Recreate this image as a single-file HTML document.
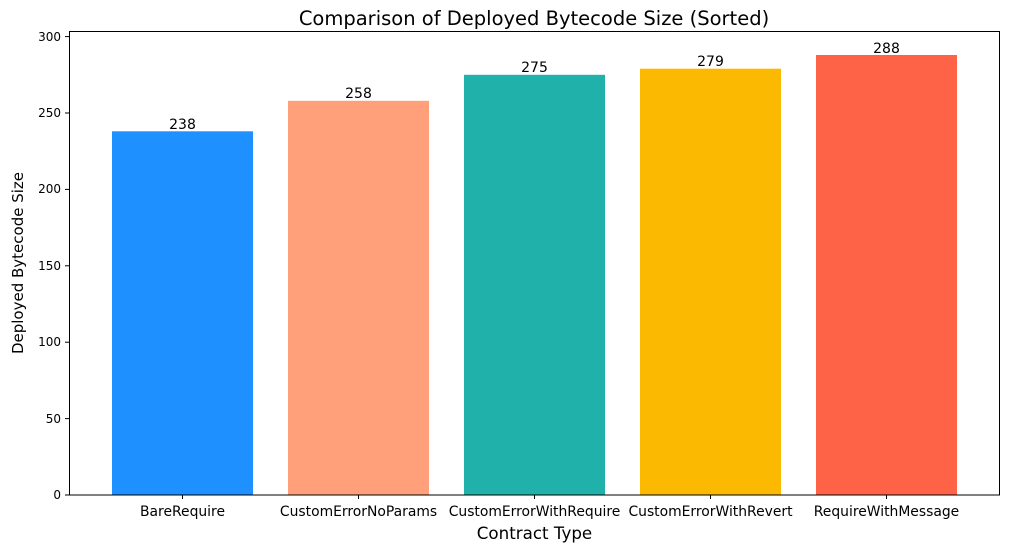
<!DOCTYPE html>
<html><head><meta charset="utf-8"><style>
html,body{margin:0;padding:0;background:#fff;}
svg text{font-family:"DejaVu Sans","Liberation Sans",sans-serif;fill:#000;}
</style></head><body>
<svg width="1009" height="552" viewBox="0 0 1009 552" xmlns="http://www.w3.org/2000/svg">
<rect width="1009" height="552" fill="#fff"/>
<text x="534" y="25" font-size="19.5" text-anchor="middle">Comparison of Deployed Bytecode Size (Sorted)</text>
<rect x="112" y="131.3" width="141" height="363.7" fill="#1E90FF"/>
<rect x="288" y="100.8" width="141" height="394.2" fill="#FFA07A"/>
<rect x="464" y="74.8" width="141" height="420.2" fill="#20B2AA"/>
<rect x="640" y="68.7" width="141" height="426.3" fill="#FBB901"/>
<rect x="816" y="55" width="141" height="440" fill="#FF6347"/>
<g font-size="14" text-anchor="middle">
<text x="182.5" y="129">238</text>
<text x="358.5" y="98">258</text>
<text x="534.5" y="72">275</text>
<text x="710.5" y="66">279</text>
<text x="886.5" y="53">288</text>
</g>
<rect x="69.5" y="31.5" width="930" height="463.5" fill="none" stroke="#000" stroke-width="1"/>
<g stroke="#000" stroke-width="1">
<line x1="65" y1="495" x2="69" y2="495"/>
<line x1="65" y1="418.6" x2="69" y2="418.6"/>
<line x1="65" y1="342.2" x2="69" y2="342.2"/>
<line x1="65" y1="265.8" x2="69" y2="265.8"/>
<line x1="65" y1="189.4" x2="69" y2="189.4"/>
<line x1="65" y1="113" x2="69" y2="113"/>
<line x1="65" y1="36.6" x2="69" y2="36.6"/>
<line x1="182.5" y1="495" x2="182.5" y2="499"/>
<line x1="358.5" y1="495" x2="358.5" y2="499"/>
<line x1="534.5" y1="495" x2="534.5" y2="499"/>
<line x1="710.5" y1="495" x2="710.5" y2="499"/>
<line x1="886.5" y1="495" x2="886.5" y2="499"/>
</g>
<g font-size="12" text-anchor="end">
<text x="61" y="499">0</text>
<text x="61" y="423">50</text>
<text x="61" y="346">100</text>
<text x="61" y="270">150</text>
<text x="61" y="193">200</text>
<text x="61" y="117">250</text>
<text x="61" y="41">300</text>
</g>
<g font-size="13.9" text-anchor="middle">
<text x="182.5" y="516">BareRequire</text>
<text x="358.5" y="516">CustomErrorNoParams</text>
<text x="534.5" y="516">CustomErrorWithRequire</text>
<text x="710.5" y="516">CustomErrorWithRevert</text>
<text x="886.5" y="516">RequireWithMessage</text>
</g>
<text x="534.5" y="539" font-size="16.7" text-anchor="middle">Contract Type</text>
<text transform="translate(23,263) rotate(-90)" font-size="15" text-anchor="middle">Deployed Bytecode Size</text>
</svg>
</body></html>
